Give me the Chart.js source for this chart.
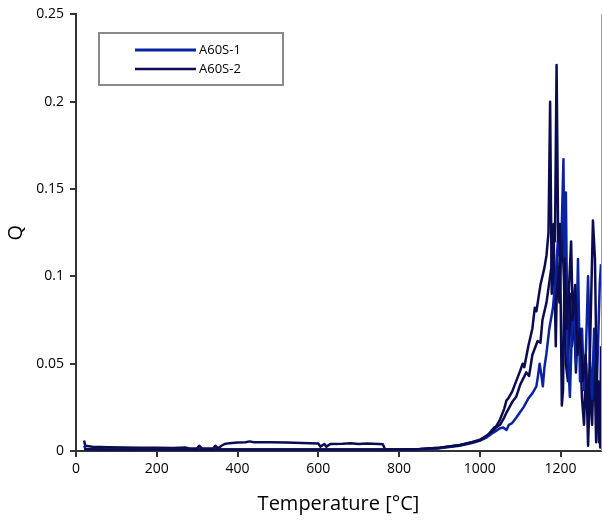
<!DOCTYPE html>
<html>
<head>
<meta charset="utf-8">
<script src="https://cdn.jsdelivr.net/npm/chart.js@4/dist/chart.umd.min.js"></script>
<style>
  html, body { margin: 0; padding: 0; background: #fff; }
  #wrap { width: 603px; height: 520px; }
</style>
</head>
<body>
<div id="wrap"><canvas id="chart" width="603" height="520"></canvas></div>
<script>
// legend names and colours
const seriesNames = ['A60S-1', 'A60S-2'];
const blueCss = '#0a23a0';
const navyCss = '#0b0b52';

// A60S-1 (blue)
const a1Temp = [20, 24, 40, 100, 200, 300, 400, 500, 600, 700, 800, 850, 900, 950, 980, 1000, 1015, 1030, 1040, 1050, 1058, 1066, 1072, 1080, 1090, 1099, 1108, 1120, 1130, 1140, 1144, 1148, 1152, 1156, 1160, 1165, 1172, 1181, 1188, 1193, 1198, 1203, 1207, 1210, 1213, 1217, 1223, 1228, 1233, 1238, 1243, 1248, 1253, 1258, 1263, 1268, 1273, 1278, 1283, 1290, 1297, 1300];
const a1Q = [0.003, 0.001, 0.0009, 0.0008, 0.0008, 0.0008, 0.0008, 0.0008, 0.0008, 0.0008, 0.0008, 0.001, 0.0015, 0.003, 0.0045, 0.006, 0.0075, 0.01, 0.0115, 0.013, 0.0135, 0.012, 0.015, 0.016, 0.019, 0.022, 0.025, 0.03, 0.033, 0.037, 0.043, 0.05, 0.044, 0.037, 0.048, 0.056, 0.07, 0.082, 0.1, 0.12, 0.11, 0.13, 0.167, 0.09, 0.148, 0.06, 0.031, 0.07, 0.08, 0.05, 0.11, 0.04, 0.07, 0.035, 0.06, 0.1, 0.05, 0.03, 0.07, 0.04, 0.096, 0.107];

// A60S-2 (navy), run with raised baseline
const a2Temp = [20, 23, 28, 40, 80, 120, 160, 200, 240, 270, 280, 300, 305, 312, 340, 345, 352, 360, 368, 380, 400, 420, 430, 440, 480, 520, 560, 600, 605, 615, 620, 630, 660, 680, 700, 720, 750, 760, 765, 800, 850, 900, 950, 980, 1000, 1020, 1030, 1036, 1040, 1050, 1060, 1066, 1070, 1080, 1090, 1100, 1106, 1110, 1120, 1130, 1136, 1140, 1150, 1160, 1165, 1170, 1174, 1178, 1183, 1188, 1192, 1197, 1203, 1208, 1213, 1218, 1223, 1228, 1233, 1238, 1243, 1248, 1253, 1258, 1263, 1268, 1273, 1278, 1283, 1288, 1293, 1298, 1300];
const a2Q = [0.006, 0.003, 0.0028, 0.0025, 0.0022, 0.002, 0.0018, 0.0018, 0.0017, 0.002, 0.0015, 0.0015, 0.003, 0.0015, 0.0015, 0.003, 0.0015, 0.003, 0.004, 0.0045, 0.0048, 0.005, 0.0055, 0.005, 0.005, 0.0048, 0.0046, 0.0043, 0.0025, 0.004, 0.0025, 0.004, 0.0042, 0.0045, 0.004, 0.0043, 0.004, 0.0038, 0.001, 0.0008, 0.001, 0.0018, 0.0035, 0.005, 0.0065, 0.009, 0.012, 0.0135, 0.014, 0.018, 0.024, 0.029, 0.03, 0.034, 0.04, 0.046, 0.05, 0.048, 0.06, 0.07, 0.082, 0.08, 0.095, 0.105, 0.112, 0.125, 0.2, 0.09, 0.12, 0.06, 0.11, 0.085, 0.13, 0.1, 0.05, 0.04, 0.09, 0.06, 0.08, 0.045, 0.075, 0.06, 0.03, 0.015, 0.05, 0.003, 0.04, 0.015, 0.06, 0.005, 0.04, 0.002, 0.06];

// A60S-2 second run (navy, not in legend)
const a2bTemp = [20, 100, 200, 300, 400, 500, 600, 700, 800, 850, 900, 950, 1000, 1030, 1040, 1050, 1060, 1066, 1080, 1090, 1100, 1115, 1122, 1130, 1143, 1150, 1155, 1165, 1177, 1182, 1186, 1190, 1194, 1198, 1203, 1206, 1210, 1215, 1220, 1226, 1230, 1236, 1242, 1248, 1255, 1262, 1268, 1273, 1280, 1285, 1290, 1295, 1300];
const a2bQ = [0.001, 0.0008, 0.0008, 0.0008, 0.0008, 0.0008, 0.0008, 0.0008, 0.0009, 0.0012, 0.0018, 0.0033, 0.006, 0.011, 0.0135, 0.015, 0.019, 0.022, 0.028, 0.031, 0.038, 0.045, 0.043, 0.055, 0.063, 0.062, 0.075, 0.085, 0.105, 0.13, 0.12, 0.221, 0.12, 0.13, 0.026, 0.035, 0.11, 0.07, 0.09, 0.12, 0.075, 0.095, 0.055, 0.07, 0.04, 0.055, 0.02, 0.06, 0.132, 0.11, 0.03, 0.005, 0.02];

const xTicks = [0, 200, 400, 600, 800, 1000, 1200];
const yTicks = [0, 0.05, 0.1, 0.15, 0.2, 0.25];

const toPoints = (xs, ys) => xs.map((x, i) => ({ x, y: ys[i] }));

const axisColor = '#333333';
const tickFont = { family: 'Open Sans', size: 14 };

// legend drawn inside the plot, as in the original
const boxLegend = {
    id: 'boxLegend',
    afterDraw(chart) {
        const ctx = chart.ctx;
        ctx.save();
        ctx.strokeStyle = '#8a8a8a';
        ctx.lineWidth = 2;
        ctx.strokeRect(99, 33, 184, 52);
        const rows = [
            { label: seriesNames[0], color: blueCss, width: 3, y: 50 },
            { label: seriesNames[1], color: navyCss, width: 2.5, y: 69 }
        ];
        ctx.font = '13px "Open Sans"';
        ctx.textBaseline = 'middle';
        rows.forEach((r) => {
            ctx.strokeStyle = r.color;
            ctx.lineWidth = r.width;
            ctx.beginPath();
            ctx.moveTo(135, r.y);
            ctx.lineTo(196, r.y);
            ctx.stroke();
            ctx.fillStyle = '#000';
            ctx.fillText(r.label, 199, r.y);
        });
        // thin frame line on the right edge
        const area = chart.chartArea;
        ctx.strokeStyle = '#9a9a9a';
        ctx.lineWidth = 1;
        ctx.beginPath();
        ctx.moveTo(area.right + 0.5, area.top);
        ctx.lineTo(area.right + 0.5, area.bottom);
        ctx.stroke();
        ctx.restore();
    }
};

const lineStyle = (color) => ({
    borderColor: color,
    backgroundColor: color,
    borderWidth: 2.5,
    pointRadius: 0,
    fill: false,
    tension: 0,
    borderJoinStyle: 'round'
});

new Chart(document.getElementById('chart'), {
    type: 'line',
    data: {
        datasets: [
            { label: seriesNames[1] + ' b', data: toPoints(a2bTemp, a2bQ), ...lineStyle(navyCss) },
            { label: seriesNames[0], data: toPoints(a1Temp, a1Q), ...lineStyle(blueCss) },
            { label: seriesNames[1], data: toPoints(a2Temp, a2Q), ...lineStyle(navyCss) }
        ]
    },
    options: {
        responsive: false,
        animation: false,
        layout: { padding: { top: 13, right: 2, left: 0, bottom: 0 } },
        plugins: {
            legend: { display: false },
            tooltip: { enabled: false }
        },
        scales: {
            x: {
                type: 'linear',
                min: 0,
                max: 1300,
                afterBuildTicks: (axis) => { axis.ticks = xTicks.map((v) => ({ value: v })); },
                afterFit: (axis) => { axis.height = 69; },
                grid: { drawOnChartArea: false, drawTicks: true, tickLength: 6, color: axisColor, lineWidth: 2 },
                border: { color: axisColor, width: 2 },
                ticks: { color: '#000', font: tickFont, padding: 4, callback: (v) => String(v) },
                title: {
                    display: true,
                    text: 'Temperature [°C]',
                    color: '#000',
                    font: { family: 'Open Sans', size: 20 },
                    padding: { top: 2 }
                }
            },
            y: {
                type: 'linear',
                min: 0,
                max: 0.25,
                afterBuildTicks: (axis) => { axis.ticks = yTicks.map((v) => ({ value: v })); },
                afterFit: (axis) => { axis.width = 76; },
                grid: { drawOnChartArea: false, drawTicks: true, tickLength: 6, color: axisColor, lineWidth: 2 },
                border: { color: axisColor, width: 2 },
                ticks: {
                    color: '#000',
                    font: tickFont,
                    padding: 6,
                    callback: (v) => String(+v.toFixed(2))
                },
                title: {
                    display: true,
                    text: 'Q',
                    color: '#000',
                    font: { family: 'Open Sans', size: 20 },
                    padding: { bottom: 4 }
                }
            }
        }
    },
    plugins: [boxLegend]
});
</script>
</body>
</html>
